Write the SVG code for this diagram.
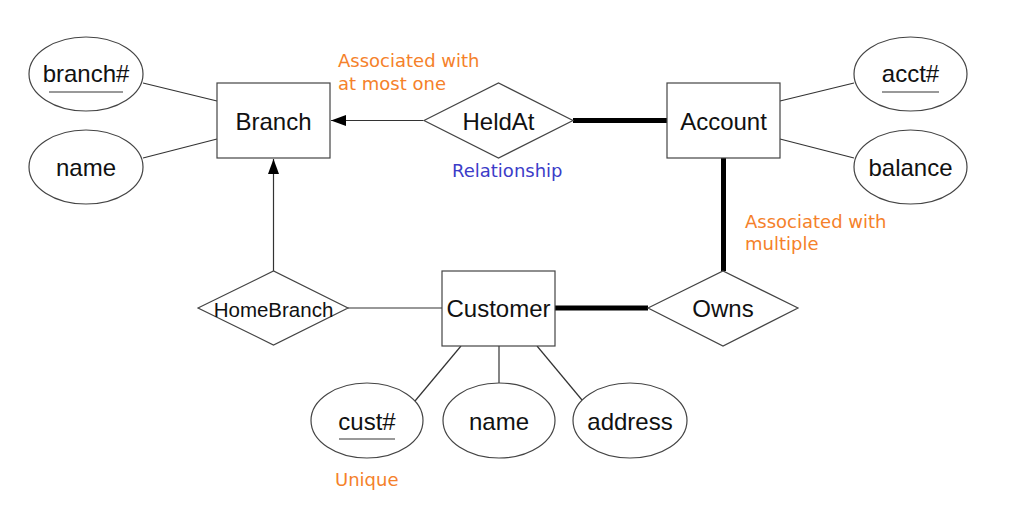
<svg xmlns="http://www.w3.org/2000/svg" width="1013" height="509" viewBox="0 0 1013 509">
<style>
.shape{fill:#fff;stroke:#444;stroke-width:1.2}
.lbl{font-family:"Liberation Sans",Arial,sans-serif;font-size:24px;fill:#111;text-anchor:middle}
.small{font-size:20.5px}
.thin{stroke:#333;stroke-width:1.2;fill:none}
.thick{stroke:#000;stroke-width:5;fill:none}
.ul{stroke:#777;stroke-width:1.5}
.note{font-family:"DejaVu Sans",sans-serif;font-size:18px}
.orange{fill:#f5812a}
.blue{fill:#3c3cc8}
</style>
<defs>
<marker id="arr" markerUnits="userSpaceOnUse" markerWidth="16" markerHeight="12" refX="15" refY="5.5" orient="auto">
<path d="M0,0 L15,5.5 L0,11 Z" fill="#000"/>
</marker>
</defs>
<rect width="1013" height="509" fill="#fff"/>
<g id="connectors">
<line class="thin" x1="143" y1="83" x2="217" y2="101"/>
<line class="thin" x1="143" y1="158" x2="217" y2="139"/>
<line class="thin" x1="423" y1="120.5" x2="331" y2="120.5" marker-end="url(#arr)"/>
<line class="thick" x1="573" y1="120.5" x2="667" y2="120.5"/>
<line class="thin" x1="780" y1="101" x2="854" y2="83"/>
<line class="thin" x1="780" y1="139" x2="854" y2="158"/>
<line class="thick" x1="723.5" y1="158" x2="723.5" y2="271"/>
<line class="thin" x1="273.5" y1="271" x2="273.5" y2="159" marker-end="url(#arr)"/>
<line class="thin" x1="348" y1="308" x2="442" y2="308"/>
<line class="thick" x1="555" y1="308" x2="648" y2="308"/>
<line class="thin" x1="461" y1="346" x2="415" y2="401"/>
<line class="thin" x1="499" y1="346" x2="499" y2="383"/>
<line class="thin" x1="537" y1="346" x2="582" y2="400"/>
</g>
<g id="branch">
<rect class="shape" x="217" y="83" width="113" height="75"/>
<text class="lbl" x="273.5" y="130">Branch</text>
</g>
<g id="branch-num">
<ellipse class="shape" cx="86" cy="74" rx="57" ry="37"/>
<text class="lbl" x="86" y="82">branch#</text>
<line class="ul" x1="49" y1="92" x2="123" y2="92"/>
</g>
<g id="branch-name">
<ellipse class="shape" cx="86" cy="167" rx="57" ry="37"/>
<text class="lbl" x="86" y="176">name</text>
</g>
<g id="heldat">
<polygon class="shape" points="424,120.5 498.5,83 573,120.5 498.5,158"/>
<text class="lbl" x="498.5" y="130">HeldAt</text>
</g>
<g id="account">
<rect class="shape" x="667" y="83" width="113" height="75"/>
<text class="lbl" x="723.5" y="130">Account</text>
</g>
<g id="acct-num">
<ellipse class="shape" cx="910.5" cy="74" rx="56.5" ry="37"/>
<text class="lbl" x="910.5" y="82">acct#</text>
<line class="ul" x1="882" y1="92" x2="939" y2="92"/>
</g>
<g id="balance">
<ellipse class="shape" cx="910.5" cy="167" rx="56.5" ry="37"/>
<text class="lbl" x="910.5" y="176">balance</text>
</g>
<g id="homebranch">
<polygon class="shape" points="198,308 273.5,271 348,308 273.5,345"/>
<text class="lbl small" x="273.5" y="317">HomeBranch</text>
</g>
<g id="customer">
<rect class="shape" x="442" y="271" width="113" height="75"/>
<text class="lbl" x="498.5" y="317">Customer</text>
</g>
<g id="owns">
<polygon class="shape" points="648,308 723,271 798,308 723,346"/>
<text class="lbl" x="723" y="317">Owns</text>
</g>
<g id="cust-num">
<ellipse class="shape" cx="367" cy="420.5" rx="56" ry="37.5"/>
<text class="lbl" x="367" y="430">cust#</text>
<line class="ul" x1="339" y1="439" x2="395" y2="439"/>
</g>
<g id="cust-name">
<ellipse class="shape" cx="499" cy="420.5" rx="56" ry="37.5"/>
<text class="lbl" x="499" y="430">name</text>
</g>
<g id="address">
<ellipse class="shape" cx="630" cy="420.5" rx="57" ry="37.5"/>
<text class="lbl" x="630" y="430">address</text>
</g>
<g id="notes">
<text class="note orange" x="338" y="67">Associated with</text>
<text class="note orange" x="338" y="90">at most one</text>
<text class="note blue" x="452" y="177">Relationship</text>
<text class="note orange" x="745" y="228">Associated with</text>
<text class="note orange" x="745" y="250">multiple</text>
<text class="note orange" x="335" y="486">Unique</text>
</g>
</svg>
